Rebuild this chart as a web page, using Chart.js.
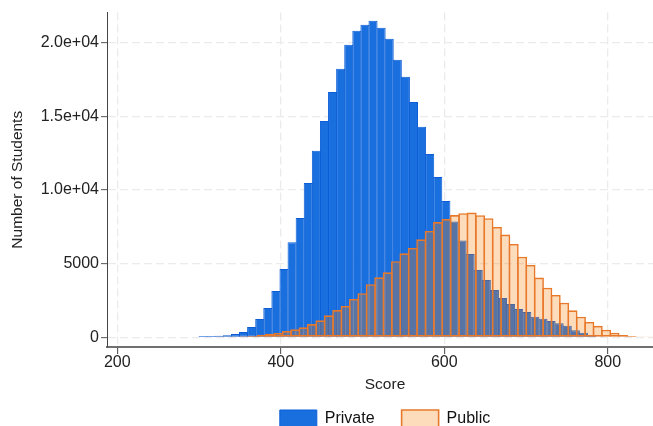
<!DOCTYPE html>
<html>
<head>
<meta charset="utf-8">
<script src="https://cdn.jsdelivr.net/npm/chart.js@4.4.1/dist/chart.umd.min.js"></script>
<style>
    html, body { margin: 0; padding: 0; background: #fff; overflow: hidden; }
    canvas { display: block; }
</style>
</head>
<body>
<!-- the figure is a little wider than the window; its right margin falls outside -->
<canvas id="scoreHistogram" width="663" height="426"></canvas>
<script>
// Histogram bins: first left edge and bin width, in score points
const privateStart = 300
const privateBinWidth = 9.9
const privateCounts = [
    90, 90, 110, 135, 225, 360, 700, 1240, 1990, 3140,
    4640, 6450, 8100, 10470, 12650, 14680, 16650, 18220, 19840, 20790,
    21200, 21470, 21000, 20250, 18830, 17670, 15970, 14280, 12440, 10880,
    9250, 7850, 6560, 5660, 4570, 3890, 3210, 2670, 2260, 1920,
    1720, 1400, 1260, 1110, 950, 780, 480, 310, 160, 60,
    40, 30, 20
]

const publicStart = 320
const publicBinWidth = 10.28
const publicCounts = [
    50, 50, 55, 65, 100, 170, 240, 300, 420, 540,
    680, 900, 1150, 1490, 1850, 2125, 2600, 2990, 3600, 4070,
    4410, 5160, 5700, 6060, 6650, 7220, 7820, 8020, 8290, 8420,
    8460, 8280, 8080, 7490, 6970, 6330, 5470, 4910, 4050, 3370,
    2870, 2350, 1830, 1400, 1040, 780, 520, 310, 156, 80,
    60, 60
]

const scoreTicks = [200, 400, 600, 800]
const countTicks = [0, 5000, 10000, 15000, 20000]
const countTickLabels = ['0', '5000', '1.0e+04', '1.5e+04', '2.0e+04']

const scoreMin = 187.4
const scoreMax = 867.6

Chart.defaults.font.family = '"Liberation Sans", Arial, Helvetica, sans-serif'
Chart.defaults.color = '#222'

function toBins(start, width, counts) {
    return counts.map((count, i) => ({ x: start + width * (i + 0.5), y: count }))
}

const gridLines = {
    color: '#ebebeb',
    lineWidth: 1.3,
    offset: false,
    tickWidth: 1
}

// bars run slightly past their bin so neighbouring outlines share one line
const histogramBar = {
    borderSkipped: false,
    grouped: false,
    categoryPercentage: 1
}

new Chart(document.getElementById('scoreHistogram'), {
    type: 'bar',
    data: {
        datasets: [{
            ...histogramBar,
            label: 'Private',
            data: toBins(privateStart, privateBinWidth, privateCounts),
            xAxisID: 'x',
            backgroundColor: '#1a6fdf',
            borderColor: '#0b5ed7',
            borderWidth: 1,
            barPercentage: 1.12,
            order: 2
        }, {
            ...histogramBar,
            label: 'Public',
            data: toBins(publicStart, publicBinWidth, publicCounts),
            xAxisID: 'x2',
            backgroundColor: 'rgba(248, 130, 16, 0.28)',
            borderColor: '#e8792b',
            borderWidth: 1.6,
            barPercentage: 1.19,
            order: 1
        }]
    },
    options: {
        responsive: false,
        animation: false,
        events: [],
        layout: {
            padding: { top: 12.5, right: 0, bottom: -11, left: 0 }
        },
        plugins: {
            legend: {
                position: 'bottom',
                fullSize: false,
                labels: {
                    boxWidth: 37,
                    boxHeight: 17,
                    padding: 27,
                    color: '#111',
                    font: { size: 16 },
                    // keep dataset order, not drawing order
                    sort: (a, b) => a.datasetIndex - b.datasetIndex
                }
            },
            tooltip: { enabled: false }
        },
        scales: {
            x: {
                type: 'linear',
                position: 'bottom',
                min: scoreMin,
                max: scoreMax,
                offset: false,
                afterBuildTicks: scale => { scale.ticks = scoreTicks.map(value => ({ value })) },
                afterFit: scale => { scale.height = 36 },
                ticks: {
                    autoSkip: false,
                    maxRotation: 0,
                    padding: 0.5,
                    color: '#222',
                    font: { size: 16, lineHeight: 1 }
                },
                grid: { ...gridLines, tickLength: 7, tickColor: '#444' },
                border: { color: '#707070', width: 2, dash: [8, 4] },
                title: {
                    display: true,
                    text: 'Score',
                    color: '#222',
                    font: { size: 15.5 },
                    padding: { top: 0, bottom: -11.5 }
                }
            },
            // second score axis so each histogram keeps its own bin width
            x2: {
                type: 'linear',
                position: 'bottom',
                display: false,
                min: scoreMin,
                max: scoreMax,
                offset: false
            },
            y: {
                min: -658,
                max: 22036,
                afterBuildTicks: scale => { scale.ticks = countTicks.map(value => ({ value })) },
                afterFit: scale => { scale.width = 107 },
                ticks: {
                    padding: 2,
                    color: '#222',
                    font: { size: 16 },
                    callback: (value, index) => countTickLabels[index]
                },
                grid: { ...gridLines, tickLength: 6, tickColor: '#555' },
                border: { color: '#444', width: 1, dash: [8, 4] },
                title: {
                    display: true,
                    text: 'Number of Students',
                    color: '#222',
                    font: { size: 15.5 },
                    padding: { top: 8.5, bottom: 0 }
                }
            }
        }
    }
})
</script>
</body>
</html>
